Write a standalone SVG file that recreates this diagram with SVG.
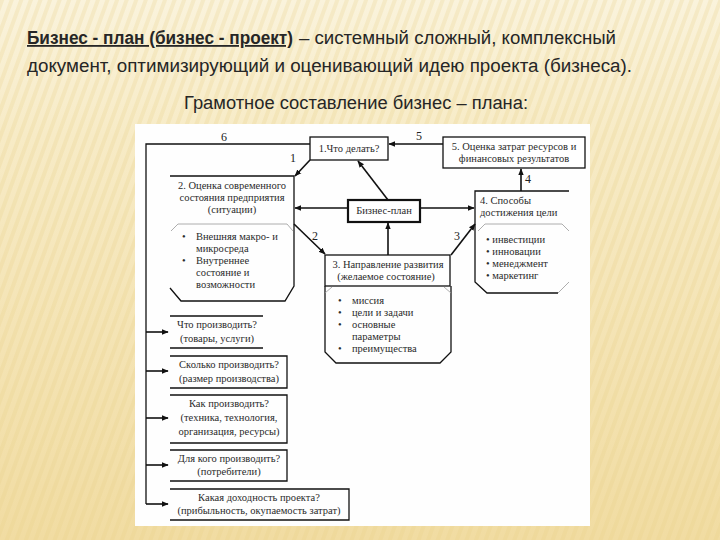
<svg xmlns="http://www.w3.org/2000/svg" width="720" height="540" viewBox="0 0 720 540">
<defs>
<linearGradient id="bg" x1="0" y1="0" x2="0" y2="1">
<stop offset="0" stop-color="#FAF3DC"/>
<stop offset="0.25" stop-color="#F7EBC6"/>
<stop offset="1" stop-color="#F1DCA2"/>
</linearGradient>
<pattern id="stripes" width="9" height="9" patternUnits="userSpaceOnUse" patternTransform="rotate(20)">
<rect width="4" height="9" fill="#E8CF88" opacity="0.25"/>
</pattern>
<marker id="ah" viewBox="0 0 10 10" refX="9" refY="5" markerWidth="7" markerHeight="7" markerUnits="userSpaceOnUse" orient="auto">
<path d="M0,1 L10,5 L0,9 Z" fill="#111"/>
</marker>
<style>
.t{font-family:"Liberation Sans",Arial,sans-serif;fill:#262626;font-size:18px}
.d{font-family:"Liberation Serif","Times New Roman",serif;fill:#2a2a2a;font-size:10.5px}
.c{text-anchor:middle}
.n{font-family:"Liberation Serif","Times New Roman",serif;fill:#222;font-size:12px;text-anchor:middle}
.ln{fill:none;stroke:#111;stroke-width:1.3}
.fa{fill:none;stroke:#999;stroke-width:0.8}
.ar{fill:none;stroke:#111;stroke-width:1.6;marker-end:url(#ah)}
.bx{fill:#fff;stroke:#111;stroke-width:1.3}
</style>
</defs>
<rect width="720" height="540" fill="url(#bg)"/>
<rect width="720" height="540" fill="url(#stripes)"/>
<text class="t" x="27" y="44" font-weight="bold" text-decoration="underline" textLength="266" lengthAdjust="spacingAndGlyphs">Бизнес - план (бизнес - проект)</text>
<text class="t" x="299" y="44" textLength="317" lengthAdjust="spacingAndGlyphs">– системный сложный, комплексный</text>
<text class="t" x="27" y="72" textLength="605" lengthAdjust="spacingAndGlyphs">документ, оптимизирующий и оценивающий идею проекта (бизнеса).</text>
<text class="t" x="184" y="109" textLength="344" lengthAdjust="spacingAndGlyphs">Грамотное составление бизнес – плана:</text>
<rect x="135" y="124" width="455" height="402" fill="#FEFEFE"/>
<g id="connectors">
<path class="ln" d="M310,144 H146 V504"/>
<path class="ar" d="M146,332 H168"/>
<path class="ar" d="M146,371 H168"/>
<path class="ar" d="M146,418 H168"/>
<path class="ar" d="M146,465 H168"/>
<path class="ar" d="M146,504 H168"/>
<path class="ar" d="M310,160 L295,176"/>
<path class="ar" d="M294,224 L325,254"/>
<path class="ar" d="M451,255 L475,224"/>
<path class="ar" d="M521,191 V169"/>
<path class="ar" d="M443,144 H389"/>
<path class="ar" d="M388,200 L358,161"/>
<path class="ar" d="M348,208 H295"/>
<path class="ar" d="M420,208 H474"/>
<path class="ar" d="M388,255 V223"/>
<text class="n" x="224" y="141">6</text>
<text class="n" x="293" y="162">1</text>
<text class="n" x="419" y="140">5</text>
<text class="n" x="528" y="183">4</text>
<text class="n" x="315" y="240">2</text>
<text class="n" x="457" y="240">3</text>
</g>
<g id="n1">
<rect class="bx" x="310" y="137" width="78" height="23"/>
<text class="d c" x="349" y="152">1.Что делать?</text>
</g>
<g id="n5">
<rect class="bx" x="443" y="137" width="142" height="31"/>
<text class="d c" x="514" y="150">5. Оценка затрат ресурсов и</text>
<text class="d c" x="514" y="162">финансовых результатов</text>
</g>
<g id="plan">
<rect x="348" y="200" width="72" height="22" fill="#fff" stroke="#111" stroke-width="2.2"/>
<text class="d c" x="384" y="214">Бизнес-план</text>
</g>
<g id="n2">
<path class="ln" d="M170,176 H294 V286 L285,301 H181 L170,288"/>
<path class="fa" d="M171,231 L178,224 H287 L293,231"/>
<text class="d c" x="232" y="189">2. Оценка современного</text>
<text class="d c" x="232" y="201">состояния предприятия</text>
<text class="d c" x="232" y="213">(ситуации)</text>
<text class="d" x="182" y="240">•</text><text class="d" x="196" y="240">Внешняя макро- и</text>
<text class="d" x="196" y="252">микросреда</text>
<text class="d" x="182" y="264">•</text><text class="d" x="196" y="264">Внутреннее</text>
<text class="d" x="196" y="276">состояние и</text>
<text class="d" x="196" y="288">возможности</text>
</g>
<g id="n3">
<rect class="bx" x="325" y="255" width="125" height="31"/>
<text class="d c" x="388" y="268">3. Направление развития</text>
<text class="d c" x="386" y="280">(желаемое состояние)</text>
<path class="ln" d="M325,286 V352 L336,363 H440 L451,352 V286"/>
<path class="fa" d="M325,293 L332,287 M444,287 L451,293"/>
<text class="d" x="338" y="304">•</text><text class="d" x="352" y="304">миссия</text>
<text class="d" x="338" y="316">•</text><text class="d" x="352" y="316">цели и задачи</text>
<text class="d" x="338" y="328">•</text><text class="d" x="352" y="328">основные</text>
<text class="d" x="352" y="340">параметры</text>
<text class="d" x="338" y="352">•</text><text class="d" x="352" y="352">преимущества</text>
</g>
<g id="n4">
<path class="ln" d="M569,191 H475 V282 L487,293 H558"/>
<path class="fa" d="M558,293 L569,282 M478,231 L485,224 H562 L569,231"/>
<text class="d" x="480" y="204">4. Способы</text>
<text class="d" x="480" y="216">достижения цели</text>
<text class="d" x="486" y="243">• инвестиции</text>
<text class="d" x="486" y="255">• инновации</text>
<text class="d" x="486" y="267">• менеджмент</text>
<text class="d" x="486" y="279">• маркетинг</text>
</g>
<g id="q1">
<path class="ln" d="M170,316 H263 M170,348 H263"/>
<text class="d c" x="217" y="328">Что производить?</text>
<text class="d c" x="217" y="342">(товары, услуги)</text>
</g>
<g id="q2">
<path class="ln" d="M170,356 H287 V388 H170"/>
<text class="d c" x="229" y="368">Сколько производить?</text>
<text class="d c" x="229" y="382">(размер производства)</text>
</g>
<g id="q3">
<path class="ln" d="M170,395 H287 V443 H170"/>
<text class="d c" x="229" y="407">Как производить?</text>
<text class="d c" x="229" y="421">(техника, технология,</text>
<text class="d c" x="229" y="435">организация, ресурсы)</text>
</g>
<g id="q4">
<path class="ln" d="M170,450 H287 V481 H170"/>
<text class="d c" x="229" y="462">Для кого производить?</text>
<text class="d c" x="229" y="475">(потребители)</text>
</g>
<g id="q5">
<path class="ln" d="M170,489 H349 V520 H170"/>
<text class="d c" x="259" y="501">Какая доходность проекта?</text>
<text class="d c" x="259" y="514">(прибыльность, окупаемость затрат)</text>
</g>
</svg>
